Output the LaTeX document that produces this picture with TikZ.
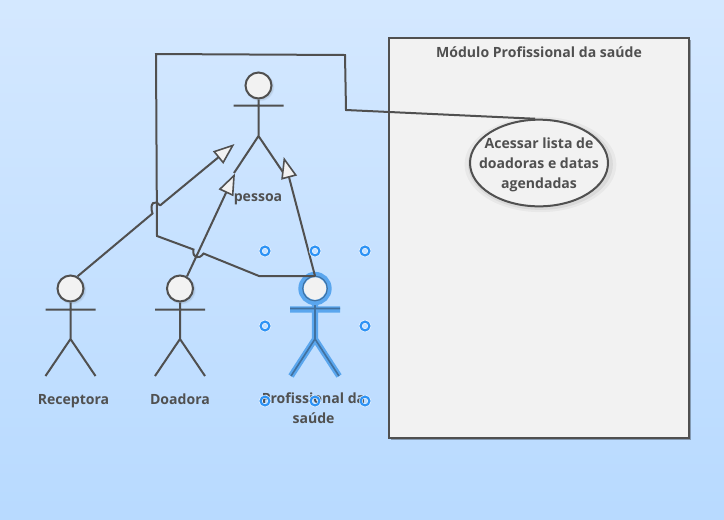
\documentclass[tikz,border=0pt]{standalone}
\usepackage{fontspec}
\setmainfont{Open Sans}
\usetikzlibrary{arrows.meta,shapes.geometric,shadows}
\definecolor{linegray}{HTML}{505050}
\definecolor{paper}{HTML}{F2F2F2}
\definecolor{selblue}{HTML}{5AA6EE}
\definecolor{seldark}{HTML}{41719F}
\definecolor{handleblue}{HTML}{2E93F5}
\definecolor{skytop}{HTML}{D4E8FF}
\definecolor{skybottom}{HTML}{B8DAFF}
\tikzset{
  soft shadow/.style={general shadow={fill=black,opacity=.04,shadow scale=1.1,shadow xshift=1pt,shadow yshift=-1pt},
                      general shadow={fill=black,opacity=.06,shadow scale=1.05,shadow xshift=1pt,shadow yshift=-1pt}},
  head node/.style={circle,draw=linegray,fill=paper,line width=1.5pt,minimum size=19.5pt,inner sep=0pt,soft shadow},
  limb/.style={draw=linegray,line width=1.5pt},
  sel limb/.style={draw=selblue,line width=4.6pt},
  sel thin/.style={draw=seldark,line width=1.2pt},
  link/.style={draw=linegray,line width=1.5pt,line join=miter},
  gen/.style={link,-{Triangle[length=16pt,width=12pt,fill=paper,line width=1.2pt]}},
  caption/.style={text=linegray,font=\fontsize{10.55}{15}\selectfont\bfseries,align=center,inner sep=0pt},
  handle/.style={circle,draw=white,double=handleblue,double distance=1.7pt,line width=.4pt,minimum size=6.6pt,inner sep=0pt}
}
\begin{document}
\begin{tikzpicture}[x=0.75pt,y=-0.75pt]

  \shade[top color=skytop,bottom color=skybottom] (0,0) rectangle (724,519);

  % module box
  \node[draw=linegray,fill=paper,line width=1.5pt,minimum width=225pt,minimum height=300pt,inner sep=0pt,
        general shadow={fill=black,opacity=.3,shadow xshift=1.5pt,shadow yshift=-1.5pt}] (modulo) at (539,238) {};
  \node[caption] (titulo) at (539,52) {Módulo Profissional da saúde};
  \node[ellipse,draw=linegray,fill=paper,line width=1.5pt,minimum width=103.5pt,minimum height=65pt,inner sep=0pt,
        soft shadow] (lista) at (539,163) {};
  \node[caption] (listatexto) at (539,164.5) {Acessar lista de\\doadoras e datas\\agendadas};

  % actors
  \node[head node] (pessoa) at (258.5,85.5) {};
  \node[head node] (receptora) at (70.5,288.5) {};
  \node[head node] (doadora) at (180,288.5) {};

  \coordinate (pessoaq) at (258.5,136);
  \coordinate (receptoraq) at (70.5,339);
  \coordinate (doadoraq) at (180,339);
  \coordinate (profq) at (315,339);

  \draw[limb] (pessoa) -- (pessoaq) (233.5,105.5) -- (283.5,105.5)
    (234,173) -- (pessoaq) -- (283.5,173);
  \draw[limb] (receptora) -- (receptoraq) (45.5,309.5) -- (95.5,309.5)
    (45.5,376) -- (receptoraq) -- (95.5,376);
  \draw[limb] (doadora) -- (doadoraq) (155,309.5) -- (205,309.5)
    (155,376) -- (doadoraq) -- (205,376);

  \draw[sel limb] (315,300) -- (profq) (290,309.5) -- (340,309.5)
    (291,376) -- (profq) -- (339,376);
  \draw[sel thin] (315,300) -- (profq) (290,308.5) -- (340,308.5)
    (291,376) -- (profq) -- (339,376);
  \node[circle,draw=selblue,line width=4pt,fill=paper,minimum size=21pt,inner sep=0pt] (prof) at (315,288.5) {};
  \node[circle,draw=seldark,line width=.8pt,minimum size=18.5pt,inner sep=0pt] (profanel) at (prof) {};
  \coordinate (proftopo) at (315,276);

  \node[caption,anchor=base] (pessoatexto) at (258,201) {pessoa};
  \node[caption,anchor=base] (receptoratexto) at (73.5,404) {Receptora};
  \node[caption,anchor=base] (doadoratexto) at (180,404) {Doadora};
  \node[caption] (proftexto) at (313.5,408.5) {Profissional da\\saúde};

  % connectors
  \coordinate (c1) at (259,276);
  \coordinate (c2) at (203.5,253.5);
  \coordinate (c3) at (193.5,249.5);
  \coordinate (c4) at (157,236);
  \coordinate (c5) at (156,54);
  \coordinate (c6) at (345,55);
  \coordinate (c7) at (346,110);
  \draw[link] (proftopo) -- (c1) -- (c2) .. controls (199,260) and (192,258) .. (c3) -- (c4) -- (c5) -- (c6) -- (c7) -- (lista.95);

  \coordinate (j1) at (152.5,213.5);
  \coordinate (j2) at (160,205.5);
  \coordinate (alvo1) at (234.5,144);
  \coordinate (alvo2) at (235,173.5);
  \coordinate (alvo3) at (283.7,157);
  \draw[link] (receptora.60) -- (j1) .. controls (149,203) and (155,199) .. (j2);
  \draw[gen] (j2) -- (alvo1);
  \draw[gen] (doadora.60) -- (alvo2);
  \draw[gen] (proftopo) -- (alvo3);

  % selection handles
  \node[handle] (h1) at (265,251) {};
  \node[handle] (h2) at (315,251) {};
  \node[handle] (h3) at (365,251) {};
  \node[handle] (h4) at (265,326) {};
  \node[handle] (h5) at (365,326) {};
  \node[handle] (h6) at (265,401) {};
  \node[handle] (h7) at (315,401) {};
  \node[handle] (h8) at (365,401) {};
\end{tikzpicture}
\end{document}
